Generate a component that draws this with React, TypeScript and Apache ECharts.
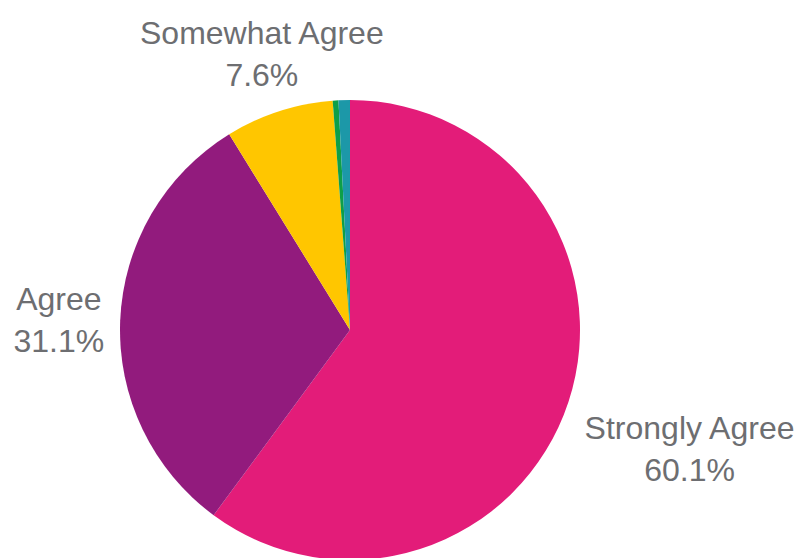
import React, { useEffect, useRef } from "react";
import * as echarts from "echarts";

const categories = ["Strongly Agree", "Agree", "Somewhat Agree", "Disagree", "Strongly Disagree"];
const values = [60.1, 31.1, 7.6, 0.4, 0.8];
const colors = ["#E31C79", "#921B7D", "#FFC600", "#0E9F48", "#1C98A8"];
const showLabel = [true, true, true, false, false];

const CX = 350;
const CY = 330;
const R = 230;
const GAP = 16;

export default function App() {
  const ref = useRef<HTMLDivElement>(null);
  useEffect(() => {
    if (!ref.current) return;
    const chart = echarts.init(ref.current, null, { renderer: "svg" });
    const total = values.reduce((a, b) => a + b, 0);
    const mids: number[] = [];
    let acc = 0;
    values.forEach((v) => {
      mids.push(((acc + v / 2) / total) * Math.PI * 2);
      acc += v;
    });
    chart.setOption({
      animation: false,
      backgroundColor: "#ffffff",
      series: [
        {
          type: "pie",
          center: [CX, CY],
          radius: R,
          startAngle: 90,
          clockwise: true,
          avoidLabelOverlap: false,
          label: {
            show: true,
            position: "outside",
            color: "#6D6E71",
            fontSize: 32,
            lineHeight: 42,
            align: "center",
            fontFamily: "Liberation Sans, Arial, sans-serif",
            formatter: (p: any) => `${p.name}\n${p.value.toFixed(1)}%`,
          },
          labelLine: { show: false },
          labelLayout: (p: any) => {
            const a = mids[p.dataIndex];
            const dx = Math.sin(a);
            const dy = -Math.cos(a);
            const w = p.labelRect.width;
            let x = CX + dx * (R + GAP);
            const y = CY + dy * (R + GAP);
            if (dx > 0.5) x += w / 2;
            else if (dx < -0.5) x -= w / 2;
            else x += dx * w * 0.16;
            const verticalAlign = dy > 0.2 ? "top" : dy < -0.2 ? "bottom" : "middle";
            return { x, y, align: "center", verticalAlign };
          },
          data: categories.map((c, i) => ({
            name: c,
            value: values[i],
            itemStyle: { color: colors[i] },
            label: { show: showLabel[i] },
          })),
        },
      ],
    });
    return () => chart.dispose();
  }, []);
  return (
    <div
      ref={ref}
      style={{ position: "absolute", left: 0, top: 0, width: 799, height: 558 }}
    />
  );
}
